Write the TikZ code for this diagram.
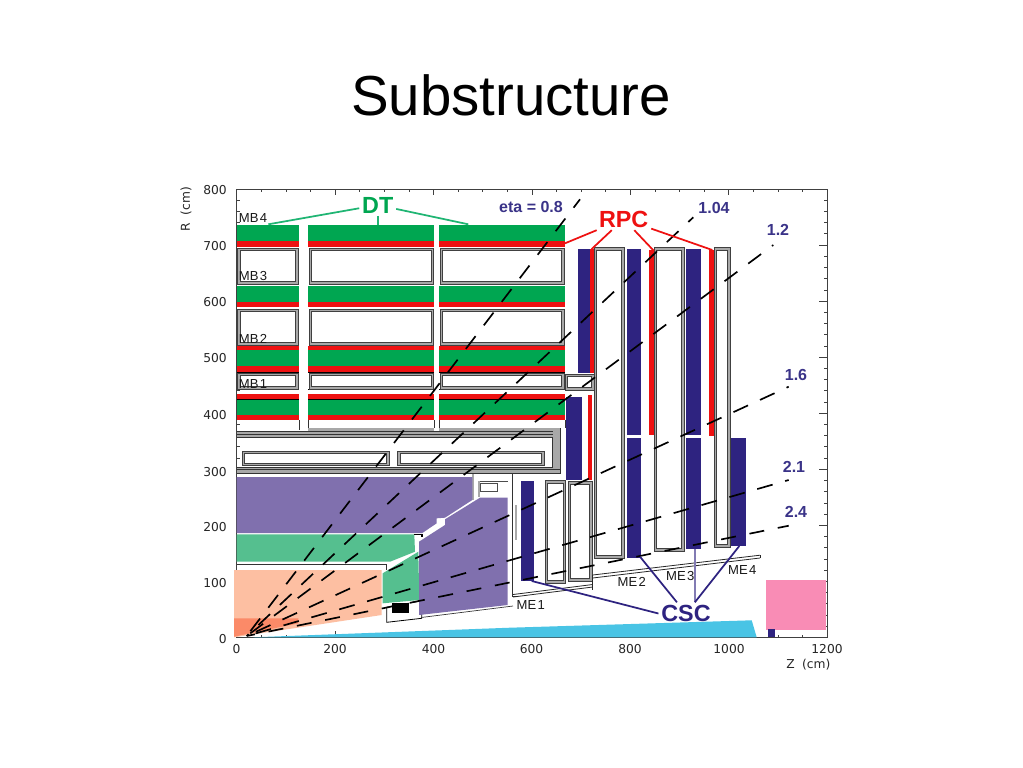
\documentclass[tikz,border=0pt]{standalone}
\usepackage{fontspec}
\setmainfont{Liberation Sans}
\newfontfamily\axfont{DejaVu Sans}
\definecolor{dkgreen}{HTML}{00A651}
\definecolor{lnkgreen}{HTML}{1FB573}
\definecolor{rpcred}{HTML}{EE1111}
\definecolor{navy}{HTML}{2E2380}
\definecolor{lblnavy}{HTML}{3A3388}
\definecolor{hcal}{HTML}{8070AE}
\definecolor{ecal}{HTML}{55BF8F}
\definecolor{salmon}{HTML}{FDBFA2}
\definecolor{orng}{HTML}{FB8A68}
\definecolor{cyanb}{HTML}{49C4E5}
\definecolor{pinkb}{HTML}{F98CB5}
\definecolor{grayb}{HTML}{A8A8A8}
\newcommand{\gbox}[4]{%
  \path[draw=black!75,line width=.5pt,fill=grayb] (#1,#2) rectangle (#3,#4);
  \path[draw=black!75,line width=.5pt,fill=white] (#1+2.5,#2+2.5) rectangle (#3-2.5,#4-2.5);}
\tikzset{
  tick/.style={draw=black!75,line width=.4pt},
  axlab/.style={font=\axfont\fontsize{9.2pt}{10pt}\selectfont,text=black!85,inner sep=0pt},
  mlab/.style={font=\fontsize{9.8pt}{10pt}\selectfont,text=black!90,inner sep=0pt},
  etalab/.style={font=\bfseries\fontsize{12pt}{13pt}\selectfont,text=lblnavy,inner sep=0pt},
  biglab/.style={font=\bfseries\fontsize{17.5pt}{18pt}\selectfont,inner sep=2pt},
  etaline/.style={black,line width=1.25pt},
  dtline/.style={draw=lnkgreen,line width=1.3pt},
  rpcline/.style={draw=rpcred,line width=1.3pt},
  cscline/.style={draw=navy,line width=1.3pt}
}
\begin{document}
\begin{tikzpicture}[x=0.75pt,y=-0.75pt]
\useasboundingbox (0,0) rectangle (1023,767);
\fill[white] (0,0) rectangle (1023,767);
\node[anchor=base,inner sep=0pt,font=\fontsize{42.3pt}{44pt}\selectfont] (title) at (511,115) {Substructure};

% frame and ticks
\draw[black!75,line width=.6pt] (236.7,189) rectangle (827,637.3);
\foreach \i in {0,...,24}{
  \pgfmathsetmacro\tx{236.7+24.6*\i}
  \pgfmathsetmacro\tl{mod(\i,4)==0?6:2.5}
  \draw[tick] (\tx,189) -- ++(0,\tl);
  \draw[tick] (\tx,637.3) -- ++(0,-\tl);
}
\foreach \i in {0,...,40}{
  \pgfmathsetmacro\ty{637.3-11.21*\i}
  \pgfmathsetmacro\tl{mod(\i,5)==0?8:3}
  \draw[tick] (236.7,\ty) -- ++(\tl,0);
  \draw[tick] (827,\ty) -- ++(-\tl,0);
}

% barrel: three columns
\foreach \a/\b in {236.7/299.3,308.3/434.3,439.3/565}{
  \fill[dkgreen] (\a,225) rectangle (\b,241);
  \fill[rpcred] (\a,241) rectangle (\b,246.7);
  \fill[dkgreen] (\a,286) rectangle (\b,302);
  \fill[rpcred] (\a,302) rectangle (\b,307.3);
  \fill[rpcred] (\a,345.7) rectangle (\b,350.3);
  \fill[dkgreen] (\a,350.3) rectangle (\b,366);
  \fill[rpcred] (\a,366) rectangle (\b,371.7);
  \fill[rpcred] (\a,394.3) rectangle (\b,399);
  \fill[dkgreen] (\a,399) rectangle (\b,415);
  \fill[rpcred] (\a,415) rectangle (\b,420);
  \draw[black,line width=.8pt] (\a,372.3) -- (\b,372.3);
  \draw[black,line width=.8pt] (\a,389.3) -- (\b,389.3);
  \draw[black,line width=.6pt] (\a,399.3) -- (\b,399.3);
}
\gbox{237.5}{248.3}{298}{284}
\gbox{237.5}{309.3}{298}{345}
\gbox{237.5}{373.3}{298}{389}
\gbox{309}{248.3}{433.5}{284}
\gbox{309}{309.3}{433.5}{345}
\gbox{309}{373.3}{433.5}{389}
\gbox{440}{248.3}{564}{284}
\gbox{440}{309.3}{564}{345}
\gbox{440}{373.3}{564}{389}
\gbox{565}{374}{594.3}{390}
\draw[black!80,line width=.45pt] (299.3,420) -- (299.3,430);
\draw[black!80,line width=.6pt] (308.3,420) -- (308.3,428) (434.3,420) -- (434.3,428) (439.3,420) -- (439.3,428) (565,420) -- (565,428);

% solenoid box
\fill[grayb] (236.7,431.5) rectangle (560,437);
\fill[grayb] (308.3,427.5) rectangle (434.3,431.5);
\fill[grayb] (439.3,427.5) rectangle (560,431.5);
\fill[grayb] (236.7,467) rectangle (560,473);
\fill[grayb] (552.7,427.5) rectangle (560,473);
\draw[black!80,line width=.5pt] (236.7,431.5) -- (552.7,431.5) (236.7,434) -- (552.7,434) (236.7,437) -- (552.7,437) -- (552.7,467) -- (236.7,467) (236.7,469.5) -- (560,469.5) (236.7,473) -- (560,473) -- (560,427.5);
\gbox{242.3}{451}{389}{465.7}
\gbox{397.7}{451}{544.3}{465.7}

% calorimeter shell
\draw[black!80,line width=.7pt] (473,473) -- (512.7,473) -- (512.7,596.7) -- (516,596.7);
\draw[grayb,line width=1pt] (473,474) -- (473,500);
\draw[black!70,line width=.5pt] (479,481) -- (508,481);
\draw[grayb,line width=1.2pt] (479,481) -- (479,497);
\draw[black!70,line width=.6pt] (480,483) rectangle (497.5,491.5);
\fill[grayb] (514.5,505) rectangle (517,540);

% calorimeters and tracker
\fill[hcal] (236.7,477) -- (472.3,477) -- (472.3,500) -- (445,517.7) -- (436.7,518.3) -- (436.7,523.3) -- (422.3,533) -- (236.7,533) -- cycle;
\fill[ecal] (236.7,534.3) -- (414.3,534.3) -- (415,551.7) -- (390,561.7) -- (236.7,561.7) -- cycle;
\draw[black!80,line width=.6pt] (236.7,564) -- (386.7,564) -- (386.7,570);
\draw[black,line width=.9pt] (414,534.3) -- (422,534.3) -- (422,537);
\fill[ecal] (382.7,573.3) -- (418.3,551.7) -- (419.3,600) -- (382.7,603.3) -- cycle;
\fill[salmon] (234,570) -- (381.7,570) -- (381.7,615) -- (234,637.3) -- cycle;
\fill[orng] (234,618.3) -- (298.3,618.3) -- (298.3,623.3) -- (234,636.7) -- cycle;
\draw[black,line width=.6pt] (386.7,608) -- (386.7,622.3) -- (421.7,618.3) -- (421.7,600);
\draw[black!80,line width=.5pt] (386.7,607) -- (421,601);
\fill[black] (391.7,602.5) rectangle (409.3,612.5);
\fill[hcal] (419,615) -- (507.7,605) -- (507.7,497.7) -- (480,497.7) -- (445,519.3) -- (445,525) -- (419,541.7) -- cycle;
\draw[black!80,line width=.5pt] (421,617.5) -- (513,606);

% endcap boxes and chambers
\gbox{594.3}{247.7}{624}{558}
\gbox{654}{247.7}{684}{551}
\gbox{714.3}{247.7}{730}{547.3}
\gbox{568.3}{481.7}{592.3}{581}
\gbox{545}{480.7}{565.7}{583.3}
\fill[navy] (577.7,249.3) rectangle (590,373);
\fill[rpcred] (590,249.3) rectangle (594.3,373);
\fill[navy] (626.7,249.3) rectangle (641,435);
\fill[navy] (626.7,437.7) rectangle (641,557.7);
\fill[rpcred] (649.3,250) rectangle (654,435);
\fill[navy] (686,249.3) rectangle (701,435);
\fill[navy] (686,437.7) rectangle (701,549.3);
\fill[rpcred] (709.3,250) rectangle (713.7,436);
\fill[navy] (730.7,438.3) rectangle (746.3,546);
\fill[navy] (566,396.7) rectangle (581.7,480);
\fill[rpcred] (587.7,395) rectangle (591.7,480);
\fill[navy] (520.7,480.7) rectangle (534.3,581);

% nose lines
\draw[black!85,line width=.6pt] (513,594.5) -- (592.7,584.5) (513,597) -- (592.7,587);
\draw[black!85,line width=.6pt] (592.7,575) -- (592.7,590);
\draw[black!85,line width=.6pt] (592.7,575) -- (760,555.2) (592.7,578) -- (760,558);
\draw[black!85,line width=.6pt] (760,555.2) -- (760,558);

% beam pipe + forward
\fill[cyanb] (253,637.3) -- (510,627.7) -- (751.7,620.3) -- (756.7,637.3) -- cycle;
\fill[pinkb] (765.7,580) rectangle (825.7,630);
\fill[navy] (767.7,629) rectangle (775,637.3);

% eta lines
\coordinate (ip) at (246.7,636);
\coordinate (e08) at (580,199.3);
\coordinate (e104) at (693.3,217.3);
\coordinate (e12) at (773.3,245);
\coordinate (e16) at (788.7,386.7);
\coordinate (e21) at (788.7,480);
\coordinate (e24) at (788.7,525.7);
\draw[etaline,dash pattern=on 12pt off 10.2pt,dash phase=17.7pt] (ip) -- (e08);
\draw[etaline,dash pattern=on 12pt off 10.1pt,dash phase=10.1pt] (ip) -- (e104);
\draw[etaline,dash pattern=on 12pt off 10.15pt,dash phase=18.8pt] (ip) -- (e12);
\draw[etaline,dash pattern=on 12pt off 9.9pt,dash phase=14.25pt] (ip) -- (e16);
\draw[etaline,dash pattern=on 12pt off 9.75pt,dash phase=14.8pt] (ip) -- (e21);
\draw[etaline,dash pattern=on 11.25pt off 10.4pt,dash phase=4.9pt] (ip) -- (e24);

% axis labels
\foreach \v/\px in {0/236.5,200/335,400/433.5,600/531.5,800/630,1000/729,1200/827}
  \node[axlab] (xl\v) at (\px,649) {\v};
\foreach \v/\py in {800/190,700/246.5,600/302.3,500/358.3,400/414.7,300/471.7,200/526.7,100/583,0/639}
  \node[axlab,anchor=east] (yl\v) at (227,\py) {\v};
\node[axlab,rotate=90] (rlab) at (186,209) {R\hspace{.6em}(cm)};
\node[axlab] (zlab) at (808.3,665) {Z\hspace{.6em}(cm)};

% station labels
\node[mlab] (mb4) at (253,218.5) {MB\hspace{.1em}4};
\node[mlab] (mb3) at (253,275.7) {MB\hspace{.1em}3};
\node[mlab] (mb2) at (253,338.5) {MB\hspace{.1em}2};
\node[mlab] (mb1) at (253,384) {MB\hspace{.1em}1};
\node[mlab] (me1) at (530.7,605) {ME\hspace{.1em}1};
\node[mlab] (me2) at (631.7,581.7) {ME\hspace{.1em}2};
\node[mlab] (me3) at (680.3,575.7) {ME\hspace{.1em}3};
\node[mlab] (me4) at (742.3,570) {ME\hspace{.1em}4};

\node[etalab] (l08) at (531,206.5) {eta = 0.8};
\node[etalab] (l104) at (714,207.5) {1.04};
\node[etalab] (l12) at (778,229.5) {1.2};
\node[etalab] (l16) at (796,375) {1.6};
\node[etalab] (l21) at (794,467) {2.1};
\node[etalab] (l24) at (796,512) {2.4};

% big labels and leaders
\node[biglab,text=dkgreen] (dt) at (377.7,205) {DT};
\node[biglab,text=rpcred] (rpc) at (623.7,219) {RPC};
\node[biglab,text=navy] (csc) at (686,613.5) {CSC};
\coordinate (dt1) at (268.3,224.3);
\coordinate (dt2) at (378.3,225);
\coordinate (dt3) at (468.3,224.3);
\draw[dtline] (dt) -- (dt1);
\draw[dtline] (dt.south -| dt2) -- (dt2);
\draw[dtline] (dt) -- (dt3);
\coordinate (r1) at (565,243.3);
\coordinate (r2) at (591.7,249);
\coordinate (r3) at (654,251);
\coordinate (r4) at (712.3,250);
\draw[rpcline] (rpc) -- (r1);
\draw[rpcline] (rpc) -- (r2);
\draw[rpcline] (rpc) -- (r3);
\draw[rpcline] (rpc) -- (r4);
\coordinate (c1) at (531.7,581);
\coordinate (c2) at (640,556.7);
\coordinate (c3) at (695,549.3);
\coordinate (c4) at (739.3,546);
\draw[cscline] (csc.west) -- (c1);
\draw[cscline] (csc) -- (c2);
\draw[draw=navy!60,line width=1pt] (csc.north -| c3) -- (c3);
\draw[cscline] (csc) -- (c4);
\end{tikzpicture}
\end{document}
